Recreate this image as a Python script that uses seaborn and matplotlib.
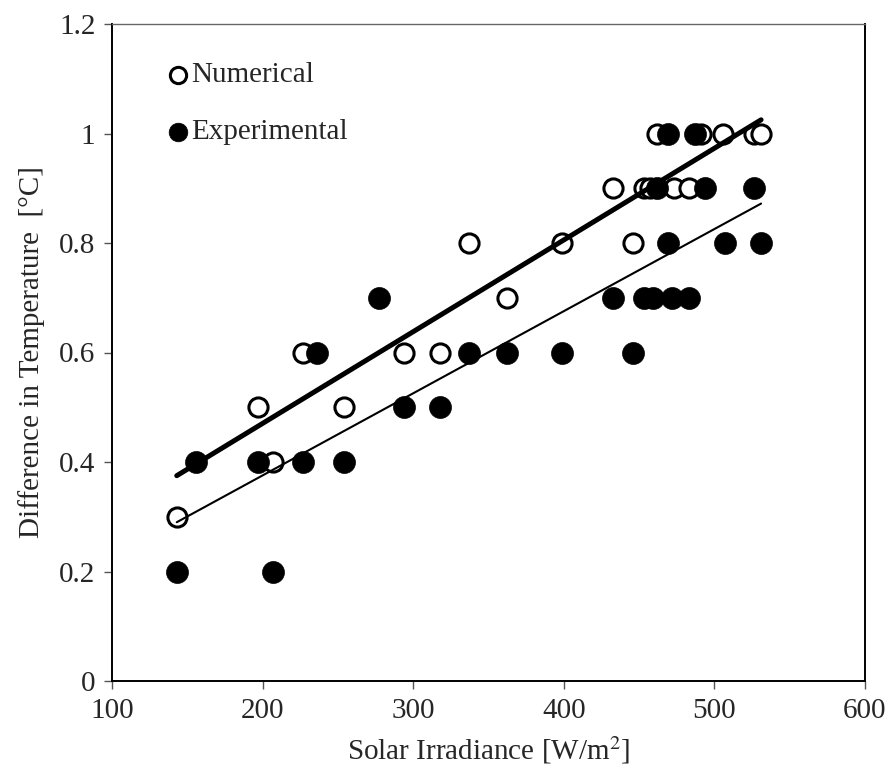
import numpy as np
import pandas as pd
import matplotlib
matplotlib.use("Agg")
import matplotlib.pyplot as plt
from matplotlib.ticker import FuncFormatter
import seaborn as sns

# ---- data ----
num_x = [143, 197, 207, 227, 254, 294, 318, 337, 362, 399, 433, 446, 453, 457,
         462, 473, 483, 491, 506, 526, 531]
num_y = [0.3, 0.5, 0.4, 0.6, 0.5, 0.6, 0.6, 0.8, 0.7, 0.8, 0.9, 0.8, 0.9, 0.9,
         1.0, 0.9, 0.9, 1.0, 1.0, 1.0, 1.0]

exp_x = [143, 156, 197, 207, 227, 236, 254, 277, 294, 318, 337, 362, 399, 433,
         446, 453, 459, 462, 469, 469, 472, 483, 487, 494, 507, 526, 531]
exp_y = [0.2, 0.4, 0.4, 0.2, 0.4, 0.6, 0.4, 0.7, 0.5, 0.5, 0.6, 0.6, 0.6, 0.7,
         0.6, 0.7, 0.7, 0.9, 1.0, 0.8, 0.7, 0.7, 1.0, 0.9, 0.8, 0.9, 0.8]

# linear trend lines (end points)
trend_x = [143, 531]
trend_num = [0.375, 1.025]
trend_exp = [0.29, 0.872]

x_ticks = [100, 200, 300, 400, 500, 600]
y_ticks = [0, 0.2, 0.4, 0.6, 0.8, 1.0, 1.2]

sns.set_theme(style="white")
plt.rcParams["font.family"] = ["Liberation Serif", "DejaVu Serif"]
plt.rcParams["mathtext.fontset"] = "stix"

fig = plt.figure(figsize=(8.9, 7.81), dpi=100)
ax = fig.add_axes([112 / 890, 1 - 681 / 781, (865 - 112) / 890, (681 - 24) / 781])

df_num = pd.DataFrame({"x": num_x, "y": num_y})
df_exp = pd.DataFrame({"x": exp_x, "y": exp_y})

sns.scatterplot(data=df_num, x="x", y="y", ax=ax, marker="o", s=190,
                facecolor="white", edgecolor="black", linewidth=2.2,
                label="Numerical", zorder=3)
sns.scatterplot(data=df_exp, x="x", y="y", ax=ax, marker="o", s=250,
                color="black", edgecolor="black", linewidth=0.5,
                label="Experimental", zorder=4)

df_tn = pd.DataFrame({"x": trend_x, "y": trend_num})
df_te = pd.DataFrame({"x": trend_x, "y": trend_exp})
sns.lineplot(data=df_tn, x="x", y="y", ax=ax, color="black", linewidth=3.6,
             zorder=5, legend=False, solid_capstyle="round")
sns.lineplot(data=df_te, x="x", y="y", ax=ax, color="black", linewidth=1.5,
             zorder=5, legend=False)

ax.set_xlim(100, 600)
ax.set_ylim(0, 1.2)
ax.set_xticks(x_ticks)
ax.set_yticks(y_ticks)
ax.yaxis.set_major_formatter(FuncFormatter(lambda v, p: f"{v:g}"))
ax.tick_params(axis="both", which="major", labelsize=21, direction="out",
               length=6, width=1, color="#555555", left=True, bottom=True,
               pad=6)
for sp in ax.spines.values():
    sp.set_color("black")
    sp.set_linewidth(1.4)
ax.spines["top"].set_color("#666666")
ax.spines["top"].set_linewidth(1.0)

ax.set_xlabel("Solar Irradiance [W/m$^{2}$]", fontsize=21, labelpad=8)
ax.set_ylabel("Difference in Temperature  [°C]", fontsize=21, labelpad=10)

leg = ax.legend(loc="upper left", bbox_to_anchor=(0.06, 0.96), frameon=False,
                fontsize=21, handlelength=0.6, handletextpad=0.15,
                labelspacing=1.05, markerscale=0.85, borderaxespad=0)

fig.savefig("out.png", dpi=100)
